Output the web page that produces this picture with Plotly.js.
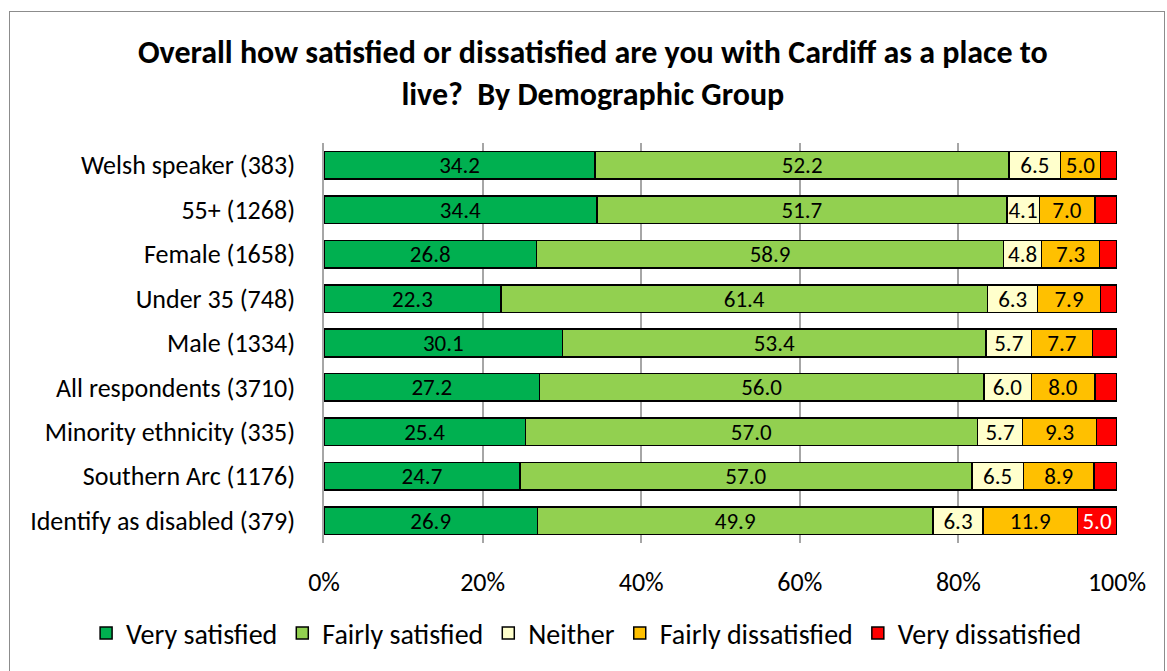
<!DOCTYPE html>
<html>
<head>
<meta charset="utf-8">
<script src="https://cdn.plot.ly/plotly-3.0.1.min.js"></script>
<style>
  html, body { margin: 0; padding: 0; background: #fff; overflow: hidden; }
  #wrap { position: absolute; left: 9px; top: 11px; width: 1156px; height: 700px; border: 1.5px solid #8C8C8C; box-sizing: border-box; }
  #chart { position: absolute; left: 0; top: 0; width: 1167px; height: 671px; }
</style>
</head>
<body>
<div id="wrap"></div>
<div id="chart"></div>
<script>
const categories = [
  "Welsh speaker (383)",
  "55+ (1268)",
  "Female (1658)",
  "Under 35 (748)",
  "Male (1334)",
  "All respondents (3710)",
  "Minority ethnicity (335)",
  "Southern Arc (1176)",
  "Identify as disabled (379)"
];
const verySatisfied      = [34.2, 34.4, 26.8, 22.3, 30.1, 27.2, 25.4, 24.7, 26.9];
const fairlySatisfied    = [52.2, 51.7, 58.9, 61.4, 53.4, 56.0, 57.0, 57.0, 49.9];
const neither            = [6.5, 4.1, 4.8, 6.3, 5.7, 6.0, 5.7, 6.5, 6.3];
const fairlyDissatisfied = [5.0, 7.0, 7.3, 7.9, 7.7, 8.0, 9.3, 8.9, 11.9];
const veryDissatisfied   = [2.1, 2.8, 2.2, 2.1, 3.1, 2.8, 2.6, 2.9, 5.0];
const xTickVals = [0, 20, 40, 60, 80, 100];
const xTickText = ["0%", "20%", "40%", "60%", "80%", "100%"];

const FONT = "Carlito, Calibri, Lato, 'Open Sans', sans-serif";

function mk(name, vals, color, textColor, minLabel) {
  return {
    type: "bar", orientation: "h", name: name,
    y: categories, x: vals,
    marker: { color: color, line: { color: "#000", width: 1.5 } },
    text: vals.map(v => v >= minLabel ? v.toFixed(1) : ""),
    texttemplate: "%{text}",
    textposition: "inside", insidetextanchor: "middle",
    textangle: 0,
    insidetextfont: { family: FONT, size: 23, color: textColor },
    hoverinfo: "x+name"
  };
}

const data = [
  mk("Very satisfied", verySatisfied, "#00B050", "#000", 0),
  mk("Fairly satisfied", fairlySatisfied, "#92D050", "#000", 0),
  mk("Neither", neither, "#FFFFCC", "#000", 0),
  mk("Fairly dissatisfied", fairlyDissatisfied, "#FFC000", "#000", 0),
  mk("Very dissatisfied", veryDissatisfied, "#FF0000", "#fff", 5)
];

const layout = {
  width: 1167, height: 671,
  paper_bgcolor: "rgba(0,0,0,0)", plot_bgcolor: "#fff",
  barmode: "stack", bargap: 0.38,
  uniformtext: { mode: "show", minsize: 23 },
  margin: { l: 324, r: 50, t: 143, b: 126 },
  font: { family: FONT, color: "#000" },
  title: {
    text: "<b>Overall how satisfied or dissatisfied are you with Cardiff as a place to<br>live?  By Demographic Group</b>",
    font: { family: FONT, size: 32, color: "#000" },
    x: 0.508, xanchor: "center", y: 1 - 63 / 671, yanchor: "middle", yref: "container"
  },
  xaxis: {
    range: [0, 100], tickvals: xTickVals, ticktext: xTickText,
    showgrid: true, gridcolor: "#A6A6A6", gridwidth: 1.5,
    zeroline: false, showline: false, ticks: "",
    tickfont: { family: FONT, size: 26, color: "#000" },
    ticklabelstandoff: 21, fixedrange: true
  },
  yaxis: {
    autorange: "reversed", showline: true, linecolor: "#A6A6A6", linewidth: 1.5,
    ticks: "", tickfont: { family: FONT, size: 26, color: "#000" },
    ticklabelstandoff: 22, fixedrange: true
  },
  showlegend: true,
  legend: {
    orientation: "h", xref: "paper", x: -0.30, xanchor: "left",
    yref: "paper", y: -0.226, yanchor: "middle",
    font: { family: FONT, size: 28, color: "#000" },
    traceorder: "normal", itemwidth: 30, tracegroupgap: 0
  }
};

Plotly.newPlot("chart", data, layout, { displayModeBar: false });
</script>
</body>
</html>
